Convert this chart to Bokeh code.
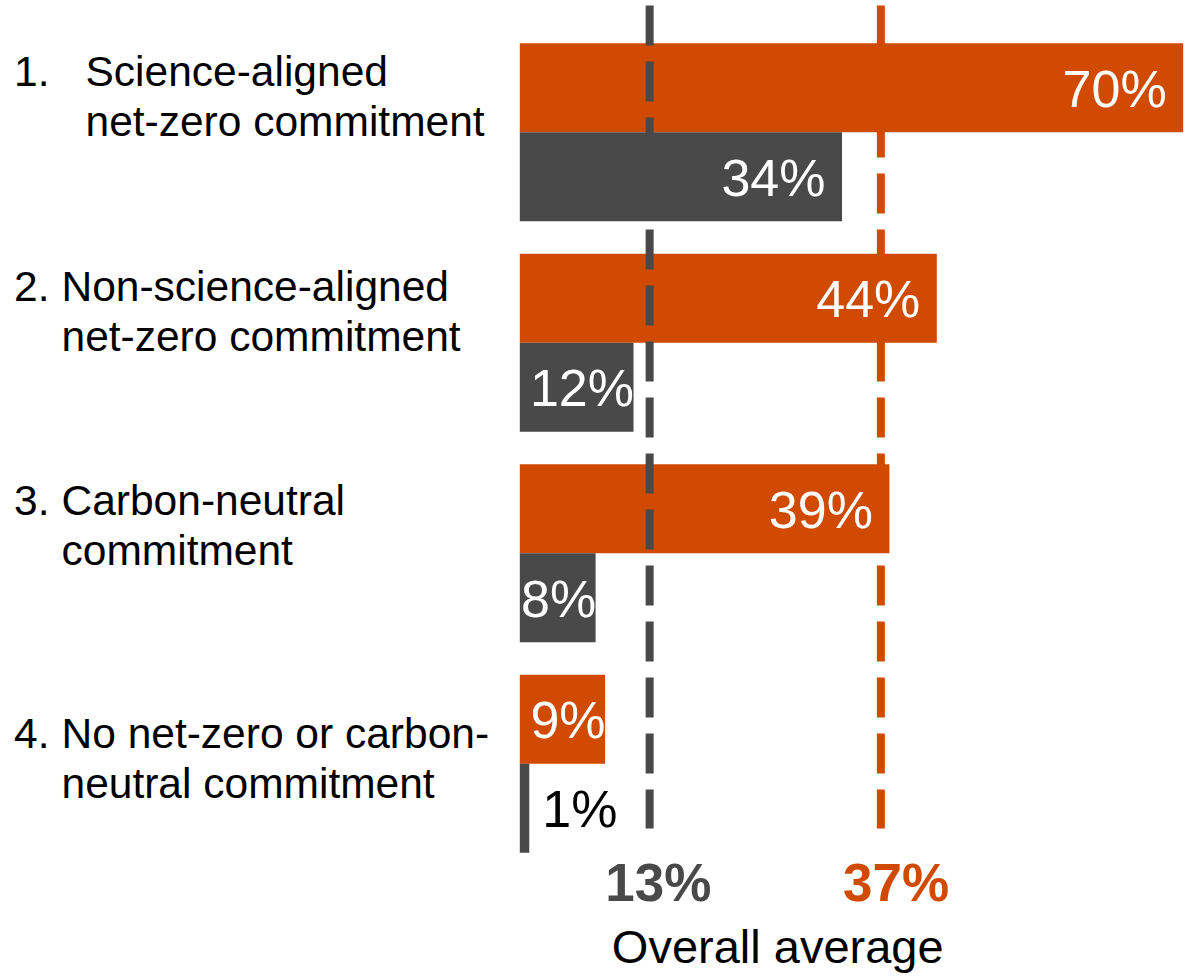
from bokeh.plotting import figure
from bokeh.models import ColumnDataSource, Range1d
from bokeh.core.properties import value
from bokeh.embed import file_html
from bokeh.resources import INLINE

# ---------------- data ----------------
cat_numbers = ["1.", "2.", "3.", "4."]
cat_line1 = ["Science-aligned", "Non-science-aligned", "Carbon-neutral", "No net-zero or carbon-"]
cat_line2 = ["net-zero commitment", "net-zero commitment", "commitment", "neutral commitment"]
orange_values = [70, 44, 39, 9]
gray_values = [34, 12, 8, 1]
avg_line_values = [13.7, 38.1]     # where the dashed average lines sit
avg_labels = ["13%", "37%"]
avg_title = "Overall average"

# ---------------- style / layout ----------------
ORANGE = "#D04A02"
GRAY = "#494949"
FONT = "Liberation Sans"

W, H = 1192, 976
ZERO_PX = 519.3
PX_PER_PCT = 9.477
GROUP_TOP = 42.7
GROUP_PITCH = 210.5
BAR_H = 89
LABEL_BASELINE = [86.7, 301.0, 515.0, 748.3]
LINE_GAP = 50
TEXT_INDENT = [85, 61, 61, 61]
BASE_FIX = 0.36   # compensation of the renderer's baseline placement (in em)

CAT_SIZE = 42.5
VAL_SIZE = 52
AVG_SIZE = 53
TITLE_SIZE = 47


def bl(y, size):
    return y - BASE_FIX * size


x_start = -ZERO_PX / PX_PER_PCT
x_end = (W - ZERO_PX) / PX_PER_PCT

p = figure(width=W, height=H, x_range=Range1d(x_start, x_end), y_range=Range1d(H, 0),
           min_border=0, toolbar_location=None, x_axis_location=None, y_axis_location=None,
           output_backend="svg", outline_line_color=None,
           background_fill_color="white", border_fill_color="white")
p.grid.visible = False

n = len(cat_numbers)
orange_y = [GROUP_TOP + i * GROUP_PITCH + BAR_H / 2 for i in range(n)]
gray_y = [c + BAR_H for c in orange_y]

p.hbar(y=orange_y, left=0, right=orange_values, height=BAR_H, fill_color=ORANGE, line_color=None)
p.hbar(y=gray_y, left=0, right=gray_values, height=BAR_H, fill_color=GRAY, line_color=None)

# dashed average lines
p.segment(x0=avg_line_values, x1=avg_line_values, y0=5, y1=828, line_width=8,
          line_dash="40 16", line_cap="butt", line_color=[GRAY, ORANGE])

# value labels
def spec(v):
    if v < 5:
        return "left", 13.0, "black"
    if v < 15:
        return "right", 0.5, "white"
    return "right", -16.5, "white"

lab = dict(x=[], y=[], text=[], align=[], xo=[], color=[])
for vals, ys in ((orange_values, orange_y), (gray_values, gray_y)):
    for v, yy in zip(vals, ys):
        a, o, c = spec(v)
        lab["x"].append(v); lab["y"].append(bl(yy + 19.8, VAL_SIZE)); lab["text"].append(f"{v}%")
        lab["align"].append(a); lab["xo"].append(o); lab["color"].append(c)
p.text(x="x", y="y", text="text", text_align="align", x_offset="xo",
       text_color="color", text_baseline="alphabetic", text_font=value(FONT),
       text_font_size=f"{VAL_SIZE}px", source=ColumnDataSource(lab))

# category labels
y1 = [bl(b, CAT_SIZE) for b in LABEL_BASELINE]
y2 = [bl(b + LINE_GAP, CAT_SIZE) for b in LABEL_BASELINE]
p.text(x=[x_start] * n, y=y1, text=cat_numbers, x_offset=13.5,
       text_baseline="alphabetic", text_align="left", text_font=value(FONT),
       text_font_size=f"{CAT_SIZE}px", text_color="black")
p.text(x=[x_start] * n, y=y1, text=cat_line1, x_offset=TEXT_INDENT,
       text_baseline="alphabetic", text_align="left", text_font=value(FONT),
       text_font_size=f"{CAT_SIZE}px", text_color="black")
p.text(x=[x_start] * n, y=y2, text=cat_line2,
       x_offset=TEXT_INDENT, text_baseline="alphabetic", text_align="left",
       text_font=value(FONT), text_font_size=f"{CAT_SIZE}px", text_color="black")

# average labels
p.text(x=avg_line_values, y=[bl(900.7, AVG_SIZE)] * 2, text=avg_labels, x_offset=[8.7, 15.1],
       text_align="center", text_baseline="alphabetic", text_font=value(FONT),
       text_font_style="bold", text_font_size=f"{AVG_SIZE}px", text_color=[GRAY, ORANGE])
p.text(x=[sum(avg_line_values) / 2], y=[bl(962.7, TITLE_SIZE)], text=[avg_title], x_offset=12.5,
       text_align="center", text_baseline="alphabetic", text_font=value(FONT),
       text_font_size=f"{TITLE_SIZE}px", text_color="black")

open("out.html", "w").write(file_html(p, INLINE))
